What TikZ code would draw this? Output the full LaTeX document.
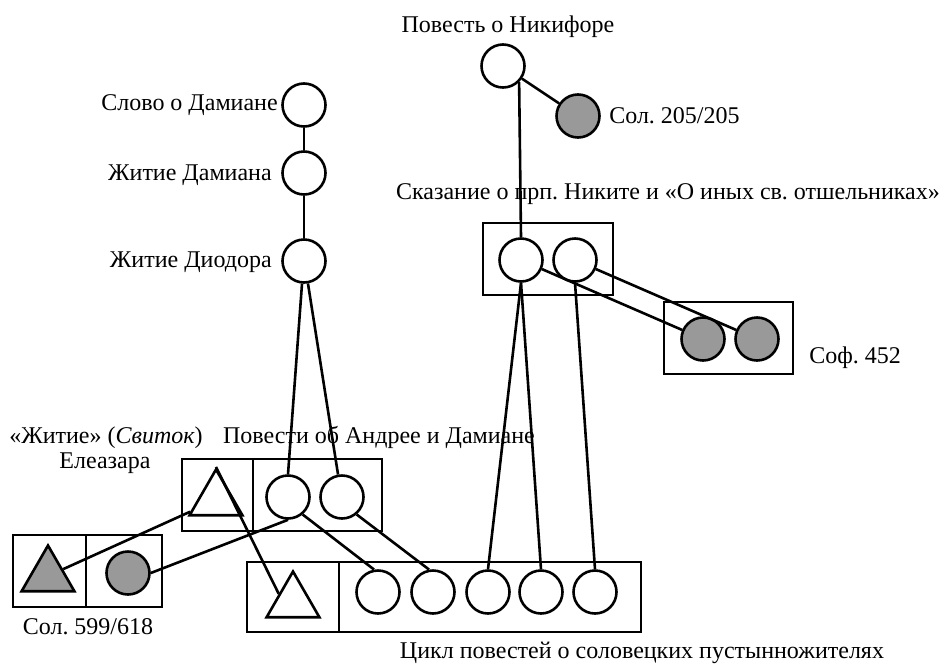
\documentclass[tikz,border=0pt]{standalone}
\usepackage{fontspec}
\setmainfont{Liberation Serif}
\usetikzlibrary{shapes.geometric}
\definecolor{mssgray}{RGB}{153,153,153}
\frenchspacing
\begin{document}
\begin{tikzpicture}[x=1pt,y=-1pt,line width=2.6pt,
	ms/.style={circle,draw,minimum size=43pt,inner sep=0pt},
	lost/.style={ms,fill=mssgray},
	tri/.style={regular polygon,regular polygon sides=3,draw,minimum size=61pt,inner sep=0pt},
	losttri/.style={tri,fill=mssgray},
	lbl/.style={inner sep=0pt,font=\fontsize{24}{28}\selectfont}]
	\useasboundingbox (0,0) rectangle (941,664);
	% Boxes
	\draw [black] (483,223) rectangle (613,295);
	\draw [black] (664,302) rectangle (793,374);
	\draw [black] (182,459) rectangle (382,531);
	\draw [black] (253,459) -- (253,531);
	\draw [black] (13,535) rectangle (162,607);
	\draw [black] (86,535) -- (86,607);
	\draw [black] (247,562) rectangle (641,632);
	\draw [black] (339,562) -- (339,632);
	% Manuscripts
	\node [ms] (slovo) at (304,105) {};
	\node [ms] (zhdam) at (304,173) {};
	\node [ms] (diodor) at (304,261) {};
	\node [ms] (nikif) at (503,66) {};
	\node [lost] (sol205) at (578,116) {};
	\node [ms] (skaz1) at (521,260) {};
	\node [ms] (skaz2) at (575,260) {};
	\node [lost] (sof1) at (703,339) {};
	\node [lost] (sof2) at (757,339) {};
	\node [tri] (svitok) at (216,500) {};
	\node [ms] (pov1) at (288,497) {};
	\node [ms] (pov2) at (342,497) {};
	\node [losttri] (soltri) at (48,576) {};
	\node [lost] (solms) at (128,573) {};
	\node [tri] (cyctri) at (293,602) {};
	\foreach \n/\x in {1/378,2/433,3/488,4/541,5/595}
		\node [ms] (cyc\n) at (\x,592) {};
	% Lines
	\draw (slovo.south) -- (zhdam.north);
	\draw (zhdam.south) -- (diodor.north);
	\draw (diodor.265) -- (pov1.north);
	\draw (diodor.280) -- (pov2.100);
	\draw (nikif) -- (sol205);
	\draw (nikif.-45) -- (skaz1.north);
	\draw (skaz1) -- (sof1);
	\draw (skaz2) -- (sof2);
	\draw (skaz1.south) -- (cyc3.north);
	\draw (skaz1.south) -- (cyc4.north);
	\draw (skaz2.south) -- (cyc5.north);
	\draw (svitok) -- (soltri);
	\draw (pov1.south) -- (solms.east);
	\draw (svitok.corner 1) -- (cyctri.side 1);
	\draw (pov1.-50) -- (cyc1.100);
	\draw (pov2.-50) -- (cyc2.100);
	% Labels
	\node [lbl,anchor=east] (lslovo) at (279,105) {Слово о Дамиане};
	\node [lbl,anchor=east] (lzhdam) at (273,175) {Житие Дамиана};
	\node [lbl,anchor=east] (ldiodor) at (273,262) {Житие Диодора};
	\node [lbl] (lnikif) at (508,27) {Повесть о Никифоре};
	\node [lbl,anchor=west] (lsol205) at (608,116) {Сол. 205/205};
	\node [lbl] (lskaz) at (668,194) {Сказание о прп. Никите и «О иных св. отшельниках»};
	\node [lbl,anchor=west] (lsof) at (808,358) {Соф. 452};
	\node [lbl] (lzhitie) at (106,438) {«Житие» (\textit{Свиток})};
	\node [lbl] (leleaz) at (105,463) {Елеазара};
	\node [lbl] (lpov) at (379,437) {Повести об Андрее и Дамиане};
	\node [lbl] (lsol599) at (88,627) {Сол. 599/618};
	\node [lbl] (lcyc) at (642,653) {Цикл повестей о соловецких пустынножителях};
\end{tikzpicture}
\end{document}
